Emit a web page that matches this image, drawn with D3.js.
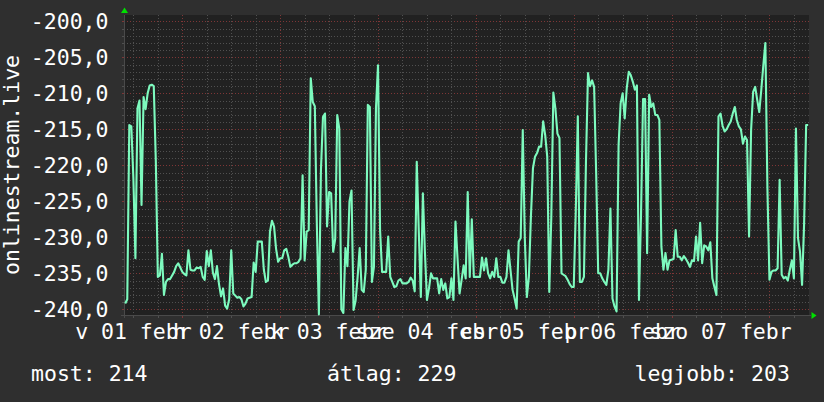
<!DOCTYPE html>
<html><head><meta charset="utf-8">
<script src="https://cdn.jsdelivr.net/npm/d3@7/dist/d3.min.js"></script>
<style>body{margin:0;background:#2f2f2f;overflow:hidden}svg{display:block}</style>
</head><body><svg id="c" width="824" height="402"></svg>
<script>
// ---- data ----
const values = [
-239.2,-238.6,-214.4,-214.6,-221.8,-232.9,-212.1,-211.0,-225.5,-210.5,
-212.2,-210.0,-208.9,-208.8,-209.0,-219.3,-235.5,-235.3,-232.3,-238.0,
-236.2,-235.8,-235.8,-235.3,-234.8,-234.0,-233.6,-234.2,-234.8,-235.1,
-235.3,-231.8,-234.5,-234.6,-234.6,-234.2,-234.3,-234.1,-235.5,-235.9,
-231.9,-234.0,-231.8,-234.9,-235.8,-234.0,-236.5,-238.2,-237.1,-239.5,
-239.9,-238.6,-231.8,-237.8,-238.1,-238.4,-238.3,-238.6,-239.6,-239.2,
-238.5,-238.4,-238.3,-233.5,-234.8,-230.6,-230.6,-230.6,-234.5,-236.2,
-236.0,-229.2,-227.7,-228.5,-231.6,-233.4,-232.9,-232.9,-231.8,-231.6,
-232.7,-234.1,-233.8,-233.6,-233.6,-233.4,-232.9,-221.4,-233.2,-229.2,
-229.0,-207.9,-211.2,-211.8,-228.3,-240.7,-220.7,-213.3,-212.8,-228.5,
-223.7,-223.9,-232.0,-230.2,-213.0,-214.9,-240.0,-240.5,-231.5,-234.0,
-225.0,-223.5,-240.1,-238.8,-235.5,-231.5,-237.3,-237.6,-234.5,-211.6,
-211.9,-236.2,-234.1,-212.0,-206.1,-229.0,-234.8,-234.8,-234.8,-229.9,
-235.5,-236.2,-236.9,-236.8,-236.0,-235.8,-236.4,-236.4,-236.4,-236.2,
-235.6,-236.0,-237.5,-219.5,-229.2,-238.3,-223.9,-232.0,-238.7,-237.1,
-235.0,-235.7,-235.7,-235.7,-237.8,-235.8,-237.3,-236.4,-238.5,-238.3,
-235.7,-238.7,-227.8,-232.9,-237.8,-235.9,-233.9,-235.7,-223.7,-235.5,
-227.5,-235.5,-235.5,-235.5,-235.5,-232.8,-234.6,-232.9,-235.0,-235.7,
-234.8,-235.5,-232.9,-235.5,-235.5,-236.3,-236.3,-235.5,-231.8,-234.6,
-237.3,-238.5,-239.9,-230.6,-230.1,-215.1,-230.1,-238.3,-235.5,-227.1,
-220.4,-218.8,-218.3,-217.4,-217.4,-213.9,-215.8,-218.8,-237.6,-227.1,
-209.9,-212.1,-215.6,-216.2,-235.0,-235.2,-235.4,-235.9,-236.5,-236.9,
-236.9,-226.4,-213.2,-236.2,-236.2,-235.5,-219.5,-207.2,-209.0,-208.2,
-209.1,-221.1,-235.0,-235.0,-235.7,-236.2,-236.6,-234.5,-226.0,-238.5,
-239.6,-240.3,-217.2,-211.4,-210.0,-213.5,-209.3,-207.0,-207.5,-208.4,
-209.5,-208.9,-238.7,-226.9,-210.8,-210.8,-232.2,-210.2,-211.9,-211.4,
-213.0,-213.0,-213.7,-231.3,-234.5,-232.2,-234.5,-233.2,-233.1,-233.0,
-229.0,-232.7,-232.7,-233.2,-232.6,-233.0,-233.5,-234.1,-233.2,-233.3,
-229.9,-233.2,-228.0,-233.6,-231.1,-231.3,-231.8,-230.7,-235.7,-236.9,
-238.0,-213.2,-212.8,-214.5,-215.3,-215.0,-214.4,-213.9,-212.8,-211.9,
-213.7,-214.6,-215.0,-217.0,-216.0,-216.5,-229.9,-215.1,-209.8,-209.1,
-210.9,-212.6,-209.5,-206.1,-203.0,-223.2,-235.9,-234.8,-234.6,-234.6,
-234.3,-222.0,-235.2,-235.7,-235.5,-236.0,-234.5,-233.2,-235.7,-214.9,
-230.1,-232.0,-236.6,-228.1,-214.4,-214.4
];
const yTickValues = [-240,-235,-230,-225,-220,-215,-210,-205,-200];
const yTickLabels = ["-240,0","-235,0","-230,0","-225,0","-220,0","-215,0","-210,0","-205,0","-200,0"];
const dayLabels = ["v 01 febr","h 02 febr","k 03 febr","sze 04 febr","cs 05 febr","p 06 febr","szo 07 febr"];
const legendTexts = ["most: 214","átlag: 229","legjobb: 203"];
const yTitle = "onlinestream.live";
const viewStart = new Date(2026,1,1,9,42);
const viewEnd = new Date(2026,1,8,9,42);
const firstSample = new Date(2026,1,1,10,0);
const stepMinutes = 30;
const yMin = -240.79, yMax = -199.12;

// ---- layout ----
const L = 124, R = 809, T = 15, B = 315;
const svg = d3.select("#c");
const FONT = "DejaVu Sans Mono";
const FS = 21.5;

svg.append("rect").attr("width",824).attr("height",402).attr("fill","#2f2f2f");
svg.append("rect").attr("x",L).attr("y",T).attr("width",R-L).attr("height",B-T).attr("fill","#212121");

const x = d3.scaleTime().domain([viewStart, viewEnd]).range([L, R]);
const y = d3.scaleLinear().domain([yMin, yMax]).range([B, T]);

const minorCol = "#505050", majorCol = "#7e3636";

// horizontal grid
const minorY = d3.range(-240, -199, 1);
svg.append("g").selectAll("line").data(minorY).join("line")
  .attr("x1",L).attr("x2",R)
  .attr("y1",d=>Math.round(y(d))+0.5).attr("y2",d=>Math.round(y(d))+0.5)
  .attr("stroke",d=>d%5===0?majorCol:minorCol)
  .attr("stroke-width",1).attr("stroke-dasharray","1,2");
svg.append("g").selectAll("line").data(minorY).join("line")
  .attr("x1",L-2).attr("x2",L)
  .attr("y1",d=>Math.round(y(d))+0.5).attr("y2",d=>Math.round(y(d))+0.5)
  .attr("stroke",d=>d%5===0?majorCol:minorCol).attr("stroke-width",1);

// vertical grid
const sixH = d3.timeHour.every(6).range(viewStart, viewEnd);
svg.append("g").selectAll("line").data(sixH).join("line")
  .attr("x1",d=>Math.round(x(d))+0.5).attr("x2",d=>Math.round(x(d))+0.5)
  .attr("y1",T).attr("y2",B)
  .attr("stroke",d=>d.getHours()===0?majorCol:minorCol)
  .attr("stroke-width",1).attr("stroke-dasharray","1,2");
svg.append("g").selectAll("line").data(sixH).join("line")
  .attr("x1",d=>Math.round(x(d))+0.5).attr("x2",d=>Math.round(x(d))+0.5)
  .attr("y1",B).attr("y2",B+3)
  .attr("stroke",d=>d.getHours()===0?majorCol:minorCol).attr("stroke-width",1);

// axes
svg.append("line").attr("x1",L+0.5).attr("x2",L+0.5).attr("y1",B+3).attr("y2",T).attr("stroke","#4a4a4a").attr("stroke-width",1);
svg.append("line").attr("x1",L-3).attr("x2",R+2).attr("y1",B+0.5).attr("y2",B+0.5).attr("stroke","#4a4a4a").attr("stroke-width",1);
svg.append("path").attr("d",`M${L-3},${T-2} L${L+4},${T-2} L${L+0.5},${T-7.5} Z`).attr("fill","#00e000");
svg.append("path").attr("d",`M${R+2.5},${B-3} L${R+2.5},${B+4} L${R+7.5},${B+0.5} Z`).attr("fill","#00e000");

// line
const times = values.map((v,i)=>d3.timeMinute.offset(firstSample, i*stepMinutes));
const line = d3.line().x((d,i)=>x(times[i])).y(d=>y(d));
svg.append("path").datum(values).attr("d",line)
  .attr("fill","none").attr("stroke","#7dfabe").attr("stroke-width",2.1)
  .attr("stroke-linejoin","round");

// y tick labels
svg.append("g").selectAll("text").data(yTickValues).join("text")
  .attr("x",108.5).attr("y",d=>y(d)+7.8)
  .attr("text-anchor","end").attr("font-family",FONT).attr("font-size",FS)
  .attr("fill","#ffffff").text((d,i)=>yTickLabels[i]);

// x labels (centered at noon of each day)
const days = d3.timeDay.range(new Date(2026,1,1), new Date(2026,1,8));
svg.append("g").selectAll("text").data(days).join("text")
  .attr("x",d=>x(d3.timeHour.offset(d,12))).attr("y",339)
  .attr("text-anchor","middle").attr("font-family",FONT).attr("font-size",FS)
  .attr("fill","#ffffff").text((d,i)=>dayLabels[i]);

// y title
svg.append("text").attr("transform","translate(18.5,165) rotate(-90)")
  .attr("text-anchor","middle").attr("font-family",FONT).attr("font-size",FS)
  .attr("fill","#ffffff").text(yTitle);

// legend
const legendX = [31, 327, 634.5];
svg.append("g").selectAll("text").data(legendTexts).join("text")
  .attr("x",(d,i)=>legendX[i]).attr("y",380.7)
  .attr("font-family",FONT).attr("font-size",FS)
  .attr("fill","#ffffff").text(d=>d);
</script></body></html>
